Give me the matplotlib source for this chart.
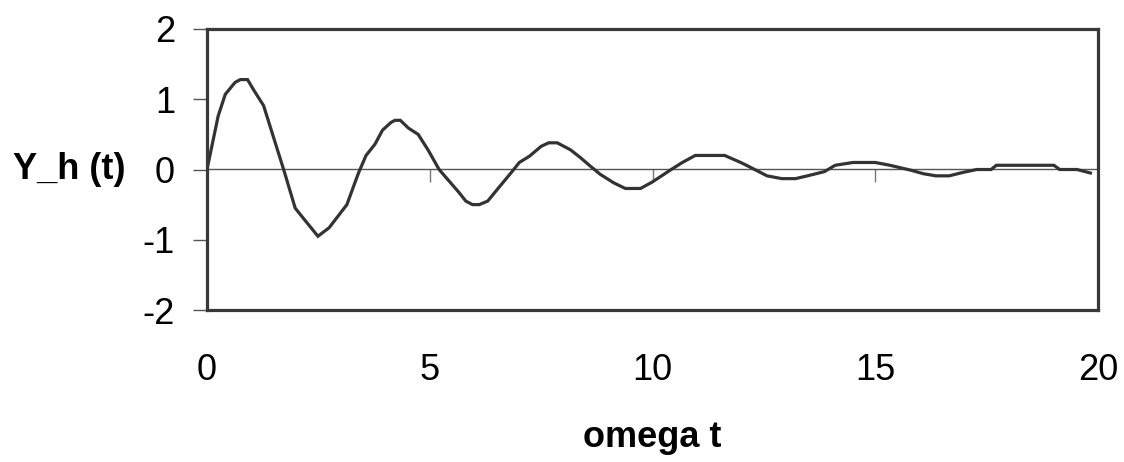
import matplotlib
matplotlib.use("Agg")
import matplotlib.pyplot as plt

plt.rcParams['font.family'] = ['Liberation Sans', 'DejaVu Sans']
plt.rcParams['axes.unicode_minus'] = False

# omega t and Y_h(t)
omega_t = [0, 0.25, 0.41, 0.63, 0.75, 0.91, 1.05, 1.27, 1.73, 1.98, 2.17, 2.49,
           2.74, 3.14, 3.4, 3.57, 3.77, 3.94, 4.13, 4.22, 4.34, 4.52, 4.74, 4.97,
           5.21, 5.66, 5.81, 5.96, 6.11, 6.3, 6.52, 6.86, 7.01, 7.24, 7.5, 7.67,
           7.86, 8.16, 8.38, 8.6, 8.83, 9.13, 9.39, 9.73, 9.99, 10.42, 10.67,
           10.96, 11.62, 11.98, 12.14, 12.57, 12.9, 13.21, 13.48, 13.86, 14.1,
           14.5, 15.0, 15.33, 15.8, 16.08, 16.36, 16.66, 16.98, 17.28, 17.6,
           17.72, 19.01, 19.14, 19.53, 19.83]
y_h = [0, 0.76, 1.07, 1.24, 1.28, 1.28, 1.13, 0.91, -0.02, -0.55, -0.7, -0.95,
       -0.83, -0.5, -0.05, 0.2, 0.36, 0.56, 0.67, 0.7, 0.7, 0.59, 0.5, 0.27,
       0, -0.33, -0.45, -0.5, -0.5, -0.45, -0.28, -0.02, 0.1, 0.19, 0.33, 0.38,
       0.38, 0.28, 0.17, 0.05, -0.07, -0.19, -0.27, -0.27, -0.18, 0, 0.1,
       0.2, 0.2, 0.1, 0.05, -0.09, -0.13, -0.13, -0.09, -0.03, 0.06,
       0.1, 0.1, 0.06, -0.01, -0.06, -0.09, -0.09, -0.04, 0, 0,
       0.06, 0.06, 0, 0, -0.05]

xticks = [0, 5, 10, 15, 20]
yticks = [-2, -1, 0, 1, 2]

fig = plt.figure(figsize=(11.24, 4.62), dpi=100)
ax = fig.add_axes([207 / 1124, 152 / 462, 891 / 1124, 281 / 462])

ax.plot(omega_t, y_h, color='#333333', lw=2.3, zorder=5, solid_joinstyle='miter')
ax.set_xlim(0, 20)
ax.set_ylim(-2, 2)

for s in ax.spines.values():
    s.set_linewidth(2.3)
    s.set_color('#383838')
    s.set_zorder(6)

ax.set_xticks(xticks)
ax.set_yticks(yticks)
ax.tick_params(axis='x', length=0, pad=31, labelsize=26)
ax.tick_params(axis='y', direction='out', length=10, width=1, color='#555555',
               pad=13, labelsize=26)

# zero line with ticks, like the excel category axis
zero = ax.secondary_xaxis(0.5)
zero.set_xticks(xticks)
zero.tick_params(direction='in', length=9.5, width=1, color='#777777',
                 labelbottom=False, labeltop=False)
for s in zero.spines.values():
    s.set_color('#555555')
    s.set_linewidth(1)

ax.set_xlabel('omega t', fontsize=26, fontweight='bold')
ax.xaxis.set_label_coords(0.5, -0.455)
ax.xaxis.label.set_va('center')
ax.set_ylabel('Y_h (t)', fontsize=26, fontweight='bold', rotation=0,
              ha='right', va='center')
ax.yaxis.set_label_coords(-0.092, 0.5)

fig.savefig('out.png', dpi=100)
